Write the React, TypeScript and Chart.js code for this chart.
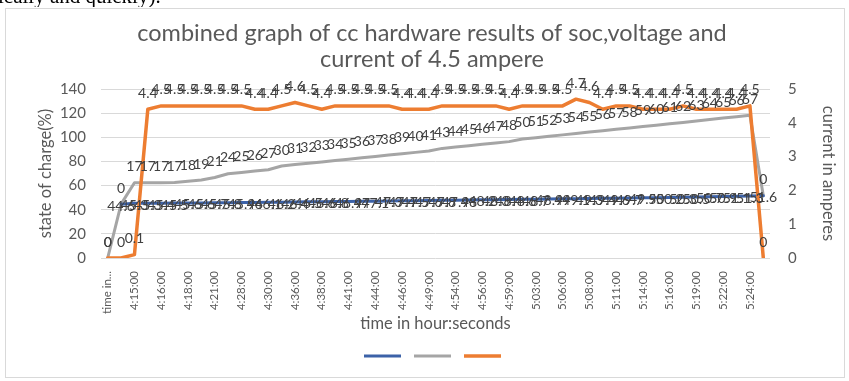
import { useEffect, useRef } from 'react';
import { Chart, registerables } from 'chart.js';

Chart.register(...registerables);

const FONT = 'Lato, "Open Sans", sans-serif';
const TEXT = '#595959';
const LABEL_TEXT = '#404040';

const TITLE_LINES = [
  'combined graph of cc hardware results of soc,voltage and',
  'current of 4.5 ampere',
];
const X_TITLE = 'time in hour:seconds';
const LEFT_TITLE = 'state of charge(%)';
const RIGHT_TITLE = 'current in amperes';

// one row per logged sample; the first row is the sheet header
const TIMES = [
  'time in hour:seconds', '4:14:00', '4:15:00', '4:15:30', '4:16:00', '4:17:00',
  '4:18:00', '4:20:00', '4:21:00', '4:25:00', '4:28:00', '4:29:00',
  '4:30:00', '4:33:00', '4:36:00', '4:37:00', '4:38:00', '4:40:00',
  '4:41:00', '4:43:00', '4:44:00', '4:45:00', '4:46:00', '4:48:00',
  '4:49:00', '4:51:00', '4:54:00', '4:55:00', '4:56:00', '4:58:00',
  '4:59:00', '5:01:00', '5:03:00', '5:04:00', '5:06:00', '5:07:00',
  '5:08:00', '5:10:00', '5:11:00', '5:13:00', '5:14:00', '5:15:00',
  '5:16:00', '5:18:00', '5:19:00', '5:21:00', '5:22:00', '5:23:00',
  '5:24:00', '5:25:00',
];

// battery voltage (stacked base series); the header row has no reading
const VOLTAGE = [
  null, 44.6, 45.3, 45.3, 45.4, 45.5, 45.6, 45.6, 45.7, 45.8,
  45.9, 46, 46.1, 46.2, 46.4, 46.5, 46.6, 46.8, 46.9, 47,
  47.1, 47.3, 47.4, 47.5, 47.6, 47.8, 47.9, 48, 48.2, 48.3,
  48.4, 48.6, 48.7, 48.9, 49, 49.1, 49.3, 49.4, 49.6, 49.7,
  49.9, 50, 50.2, 50.3, 50.5, 50.7, 50.9, 51.1, 51.3, 51.6,
];

// state of charge in percent (stacked on top of voltage)
const SOC = [
  0, 0, 17, 17, 17, 17, 18, 19, 21, 24,
  25, 26, 27, 30, 31, 32, 33, 34, 35, 36,
  37, 38, 39, 40, 41, 43, 44, 45, 46, 47,
  48, 50, 51, 52, 53, 54, 55, 56, 57, 58,
  59, 60, 61, 62, 63, 64, 65, 66, 67, 0,
];

// charging current in amperes (secondary axis)
const CURRENT = [
  0, 0, 0.1, 4.4, 4.5, 4.5, 4.5, 4.5, 4.5, 4.5,
  4.5, 4.4, 4.4, 4.5, 4.6, 4.5, 4.4, 4.5, 4.5, 4.5,
  4.5, 4.5, 4.4, 4.4, 4.4, 4.5, 4.5, 4.5, 4.5, 4.5,
  4.4, 4.5, 4.5, 4.5, 4.5, 4.7, 4.6, 4.4, 4.5, 4.5,
  4.4, 4.4, 4.4, 4.5, 4.4, 4.4, 4.4, 4.4, 4.5, 0,
];

const LEFT_AXIS = { min: 0, max: 140, step: 20 };
const RIGHT_AXIS = { min: 0, max: 5, step: 0.5 };

const BLUE = '#3c62a8';
const GRAY = '#a5a5a5';
const ORANGE = '#ed7d31';

// dataset index -> legend position (blue, gray, orange)
const LEGEND_RANK = [2, 0, 1];
// vertical offset of each series' value labels relative to the point
const LABEL_DY = [-16, 2, -16];

const framePlugin = {
  id: 'frame',
  beforeDraw(chart: any) {
    const { ctx } = chart;
    ctx.save();
    ctx.fillStyle = '#ffffff';
    ctx.fillRect(0, 0, chart.width, chart.height);
    ctx.strokeStyle = '#d9d9d9';
    ctx.lineWidth = 1;
    ctx.strokeRect(5.5, 8.5, 839, 369);
    ctx.restore();
  },
};

const valueLabelPlugin = {
  id: 'valueLabels',
  afterDatasetsDraw(chart: any) {
    const { ctx } = chart;
    ctx.save();
    ctx.font = `14px ${FONT}`;
    ctx.fillStyle = LABEL_TEXT;
    ctx.textAlign = 'center';
    ctx.textBaseline = 'middle';
    chart.data.datasets.forEach((ds: any, i: number) => {
      const meta = chart.getDatasetMeta(i);
      meta.data.forEach((pt: any, j: number) => {
        const v = ds.data[j];
        if (v === null || v === undefined) return;
        ctx.fillText(String(v), pt.x, pt.y + LABEL_DY[i]);
      });
    });
    ctx.restore();
  },
};

export default function App() {
  const canvasRef = useRef<HTMLCanvasElement | null>(null);

  useEffect(() => {
    document.body.style.margin = '0';
    const canvas = canvasRef.current;
    if (!canvas) return;

    const lineStyle = {
      borderWidth: 3,
      pointRadius: 0,
      pointHoverRadius: 0,
      tension: 0,
      borderCapStyle: 'round' as const,
      borderJoinStyle: 'round' as const,
    };

    const chart = new Chart(canvas, {
      type: 'line',
      data: {
        labels: TIMES,
        datasets: [
          { ...lineStyle, label: '', data: CURRENT, borderColor: ORANGE, backgroundColor: ORANGE, yAxisID: 'y1', borderWidth: 3.5 },
          { ...lineStyle, label: '', data: VOLTAGE, borderColor: BLUE, backgroundColor: BLUE, yAxisID: 'y' },
          { ...lineStyle, label: '', data: SOC, borderColor: GRAY, backgroundColor: GRAY, yAxisID: 'y' },
        ],
      },
      options: {
        responsive: false,
        animation: false,
        devicePixelRatio: 1,
        layout: { padding: { top: 11, left: 15, right: 0, bottom: 9 } },
        plugins: {
          title: {
            display: true,
            text: TITLE_LINES,
            color: TEXT,
            font: { family: FONT, size: 23.5, weight: 'normal', lineHeight: '26px' },
            padding: { top: 9, bottom: 17 },
          },
          legend: {
            position: 'bottom',
            fullSize: false,
            labels: {
              usePointStyle: true,
              pointStyle: 'line',
              pointStyleWidth: 37,
              boxHeight: 12,
              padding: 7,
              font: { family: FONT, size: 12 },
              sort: (a: any, b: any) => LEGEND_RANK[a.datasetIndex] - LEGEND_RANK[b.datasetIndex],
            },
          },
          tooltip: { enabled: false },
        },
        scales: {
          x: {
            offset: true,
            afterFit: (s: any) => { s.height = 85; },
            grid: { display: false, offset: true },
            border: { display: false },
            ticks: {
              autoSkip: false,
              minRotation: 90,
              maxRotation: 90,
              padding: 5,
              color: TEXT,
              font: { family: FONT, size: 11.5 },
              callback: function (this: any, value: any, index: number) {
                if (index % 2 === 1) return '';
                const s = this.getLabelForValue(value);
                return s.length > 10 ? s.slice(0, 7) + '...' : s;
              },
            },
            title: {
              display: true,
              text: X_TITLE,
              color: TEXT,
              font: { family: FONT, size: 16.5 },
              padding: { top: 0, bottom: 9 },
            },
          },
          y: {
            position: 'left',
            stacked: true,
            min: LEFT_AXIS.min,
            max: LEFT_AXIS.max,
            afterFit: (s: any) => { s.width = 86; },
            grid: { color: '#d9d9d9', drawTicks: false, lineWidth: 1 },
            border: { display: false },
            ticks: {
              stepSize: LEFT_AXIS.step,
              padding: 15,
              color: TEXT,
              font: { family: FONT, size: 15 },
            },
            title: {
              display: true,
              text: LEFT_TITLE,
              color: TEXT,
              font: { family: FONT, size: 16.5 },
              padding: { top: 21, bottom: 0 },
            },
          },
          y1: {
            position: 'right',
            min: RIGHT_AXIS.min,
            max: RIGHT_AXIS.max,
            afterFit: (s: any) => { s.width = 79; },
            grid: { display: false, drawTicks: false },
            border: { display: false },
            ticks: {
              stepSize: RIGHT_AXIS.step,
              padding: 18,
              color: TEXT,
              font: { family: FONT, size: 15 },
              callback: (v: any) => String(Number(v)),
            },
            title: {
              display: true,
              text: RIGHT_TITLE,
              color: TEXT,
              font: { family: FONT, size: 16.5 },
              padding: { top: 11, bottom: 0 },
            },
          },
        },
      },
      plugins: [framePlugin, valueLabelPlugin],
    });

    return () => chart.destroy();
  }, []);

  return (
    <div style={{ position: 'relative', width: 849, height: 381, overflow: 'hidden' }}>
      <canvas ref={canvasRef} width={849} height={381} style={{ display: 'block' }} />
      <div
        style={{
          position: 'absolute',
          left: 0,
          top: 0,
          height: 7,
          width: 220,
          overflow: 'hidden',
        }}
      >
        <div style={{ position: 'absolute', top: -16, left: -2, font: '21px serif', color: '#000', whiteSpace: 'nowrap' }}>
          ically and quickly).
        </div>
      </div>
    </div>
  );
}
